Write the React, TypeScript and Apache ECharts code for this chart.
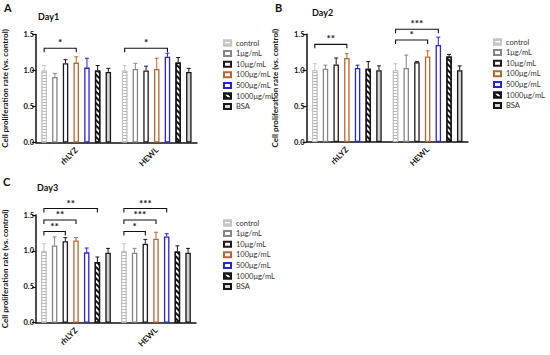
import React, { useEffect, useRef } from 'react';
import * as echarts from 'echarts';

const categories = ['rhLYZ', 'HEWL'];
const doses = ['control', '1μg/mL', '10μg/mL', '100μg/mL', '500μg/mL', '1000μg/mL', 'BSA'];
const dayTitles = ['Day1', 'Day2', 'Day3'];
const panelLetters = ['A', 'B', 'C'];
const yTicks = [0, 0.5, 1.0, 1.5];

// mean values per dose (control ... BSA)
const day1RhLYZ = [1.0, 0.91, 1.1, 1.11, 1.04, 1.0, 0.98];
const day1RhLYZSd = [0.07, 0.05, 0.05, 0.08, 0.13, 0.07, 0.05];
const day1HEWL = [1.0, 1.02, 1.0, 1.02, 1.19, 1.11, 0.98];
const day1HEWLSd = [0.07, 0.08, 0.06, 0.15, 0.05, 0.07, 0.05];

const day2RhLYZ = [1.0, 1.02, 1.08, 1.17, 1.03, 1.02, 1.0];
const day2RhLYZSd = [0.09, 0.05, 0.09, 0.06, 0.04, 0.1, 0.06];
const day2HEWL = [1.0, 1.03, 1.11, 1.19, 1.35, 1.19, 1.0];
const day2HEWLSd = [0.09, 0.18, 0.01, 0.08, 0.11, 0.03, 0.06];

const day3RhLYZ = [1.0, 1.075, 1.135, 1.145, 0.98, 0.845, 0.975];
const day3RhLYZSd = [0.1, 0.12, 0.05, 0.04, 0.06, 0.07, 0.06];
const day3HEWL = [1.0, 0.975, 1.1, 1.17, 1.2, 0.99, 0.975];
const day3HEWLSd = [0.1, 0.06, 0.06, 0.09, 0.04, 0.08, 0.06];

// significance brackets: [category, fromDose, toDose, yValue, stars]
const day1Brackets: [number, number, number, number, string][] = [
  [0, 0, 3, 1.31, '*'],
  [1, 0, 4, 1.31, '*'],
];
const day2Brackets: [number, number, number, number, string][] = [
  [0, 0, 3, 1.36, '**'],
  [1, 0, 3, 1.42, '*'],
  [1, 0, 4, 1.57, '***'],
];
const day3Brackets: [number, number, number, number, string][] = [
  [0, 0, 2, 1.27, '**'],
  [0, 0, 3, 1.43, '**'],
  [0, 0, 5, 1.59, '**'],
  [1, 0, 2, 1.27, '*'],
  [1, 0, 3, 1.43, '***'],
  [1, 0, 4, 1.59, '***'],
];

const dayMeans = [
  [day1RhLYZ, day1HEWL],
  [day2RhLYZ, day2HEWL],
  [day3RhLYZ, day3HEWL],
];
const daySds = [
  [day1RhLYZSd, day1HEWLSd],
  [day2RhLYZSd, day2HEWLSd],
  [day3RhLYZSd, day3HEWLSd],
];
const dayBrackets = [day1Brackets, day2Brackets, day3Brackets];

const FONT = 'Lato, "Open Sans", sans-serif';
const BAR_W = 5.5;
const BAR_GAP = 0.945;
const STEP = BAR_W * (1 + BAR_GAP);

const grids = [
  { left: 34, top: 34.5, width: 163, height: 108 },
  { left: 306.5, top: 34.3, width: 161.5, height: 107.7 },
  { left: 34.3, top: 215, width: 161.7, height: 107.7 },
];
const legendPos = [
  { left: 223, top: 39 },
  { left: 493, top: 38 },
  { left: 223, top: 219 },
];
const letterPos = [
  { left: 4, top: 2 },
  { left: 275, top: 2 },
  { left: 3, top: 176 },
];
const dayPos = [
  { left: 38, top: 12 },
  { left: 312, top: 8 },
  { left: 37, top: 183 },
];

const borderColors = ['#c4c4c4', '#858585', '#24161b', '#b9662e', '#2424d8', '#151515', '#151515'];

function itemStyleFor(k: number): any {
  const base: any = {
    color: '#ffffff',
    borderColor: borderColors[k],
    borderWidth: 1.3,
  };
  if (k === 0) {
    base.borderWidth = 1;
    base.decal = {
      symbol: 'rect',
      symbolSize: 1,
      dashArrayX: [1, 0],
      dashArrayY: [1, 2],
      rotation: 0,
      color: '#b8b8b8',
      backgroundColor: '#ffffff',
    };
  } else if (k === 5) {
    base.decal = {
      symbol: 'rect',
      symbolSize: 1,
      dashArrayX: [1, 0],
      dashArrayY: [1.6, 1.6],
      rotation: Math.PI / 4,
      color: '#111111',
      backgroundColor: '#ffffff',
    };
  } else if (k === 6) {
    base.color = '#d2d2d2';
  }
  return base;
}

function buildOption(): any {
  const series: any[] = [];
  const xAxis: any[] = [];
  const yAxis: any[] = [];
  const legend: any[] = [];
  const title: any[] = [];

  for (let d = 0; d < 3; d++) {
    xAxis.push({
      type: 'category',
      gridIndex: d,
      data: categories,
      axisLine: { lineStyle: { color: '#111', width: 1.5 } },
      axisTick: { alignWithLabel: true, length: 3, lineStyle: { color: '#111', width: 1.2 } },
      axisLabel: {
        rotate: 45,
        margin: 6,
        fontFamily: FONT,
        fontWeight: 'bold',
        fontSize: 8,
        color: '#111',
      },
    });
    yAxis.push({
      type: 'value',
      gridIndex: d,
      min: 0,
      max: 1.5,
      interval: 0.5,
      name: 'Cell proliferation rate (vs. control)',
      nameLocation: 'middle',
      nameGap: d === 1 ? 27.5 : 27,
      nameTextStyle: { fontFamily: FONT, fontWeight: 'bold', fontSize: 8, color: '#111' },
      axisLine: { show: true, lineStyle: { color: '#111', width: 1.5 } },
      axisTick: { show: true, length: 4, lineStyle: { color: '#111', width: 1.2 } },
      splitLine: { show: false },
      axisLabel: {
        margin: 2,
        fontFamily: FONT,
        fontWeight: 'bold',
        fontSize: 7.5,
        color: '#111',
        formatter: (v: number) => (yTicks.indexOf(v) >= 0 ? v.toFixed(1) : ''),
      },
    });

    for (let k = 0; k < doses.length; k++) {
      series.push({
        type: 'bar',
        name: doses[k],
        xAxisIndex: d,
        yAxisIndex: d,
        barWidth: BAR_W,
        barGap: `${BAR_GAP * 100}%`,
        data: [dayMeans[d][0][k], dayMeans[d][1][k]],
        itemStyle: itemStyleFor(k),
        z: 2,
      });
    }

    const errData: number[][] = [];
    for (let c = 0; c < 2; c++) {
      for (let k = 0; k < doses.length; k++) {
        errData.push([c, dayMeans[d][c][k] + daySds[d][c][k], k, dayMeans[d][c][k]]);
      }
    }
    series.push({
      type: 'custom',
      name: 'err' + d,
      xAxisIndex: d,
      yAxisIndex: d,
      data: errData,
      encode: { x: 0, y: 1 },
      z: 3,
      renderItem: (params: any, api: any) => {
        const c = api.value(0);
        const top = api.value(1);
        const k = api.value(2);
        const mean = api.value(3);
        const center = api.coord([c, mean]);
        const x = center[0] + (k - 3) * STEP;
        const y0 = center[1];
        const y1 = api.coord([c, top])[1];
        const col = borderColors[k];
        return {
          type: 'group',
          children: [
            { type: 'line', shape: { x1: x, y1: y0, x2: x, y2: y1 }, style: { stroke: col, lineWidth: 1 } },
            { type: 'line', shape: { x1: x - 2, y1: y1, x2: x + 2, y2: y1 }, style: { stroke: col, lineWidth: 1 } },
          ],
        };
      },
    });

    const br = dayBrackets[d];
    series.push({
      type: 'custom',
      name: 'sig' + d,
      xAxisIndex: d,
      yAxisIndex: d,
      data: br.map((b) => [b[0], b[3], b[1], b[2]]),
      encode: { x: 0, y: 1 },
      z: 4,
      renderItem: (params: any, api: any) => {
        const c = api.value(0);
        const yv = api.value(1);
        const from = api.value(2);
        const to = api.value(3);
        const p = api.coord([c, yv]);
        const x1 = p[0] + (from - 3) * STEP;
        const x2 = p[0] + (to - 3) * STEP;
        const y = p[1];
        return {
          type: 'group',
          children: [
            {
              type: 'polyline',
              shape: { points: [[x1, y + 4], [x1, y], [x2, y], [x2, y + 4]] },
              style: { stroke: '#111', lineWidth: 1.1, fill: null },
            },
            {
              type: 'text',
              x: (x1 + x2) / 2,
              y: y - 1,
              style: {
                text: br[params.dataIndex][4],
                fontFamily: FONT,
                fontWeight: 'bold',
                fontSize: 10,
                fill: '#111',
                align: 'center',
                verticalAlign: 'bottom',
              },
            },
          ],
        };
      },
    });

    legend.push({
      data: doses,
      orient: 'vertical',
      left: legendPos[d].left,
      top: legendPos[d].top,
      padding: 0,
      itemWidth: 7,
      itemHeight: 5,
      itemGap: 2.6,
      icon: 'rect',
      selectedMode: false,
      textStyle: { fontFamily: FONT, fontSize: 7.5, color: '#333', lineHeight: 6 },
    });

    title.push({
      text: panelLetters[d],
      left: letterPos[d].left,
      top: letterPos[d].top,
      padding: 0,
      textStyle: { fontFamily: FONT, fontWeight: 'bold', fontSize: 11, color: '#111' },
    });
    title.push({
      text: dayTitles[d],
      left: dayPos[d].left,
      top: dayPos[d].top,
      padding: 0,
      textStyle: { fontFamily: FONT, fontWeight: 'bold', fontSize: 9, color: '#111' },
    });
  }

  return {
    animation: false,
    backgroundColor: '#ffffff',
    title,
    legend,
    grid: grids.map((g) => ({ ...g, containLabel: false })),
    xAxis,
    yAxis,
    series,
  };
}

export default function App() {
  const ref = useRef<HTMLDivElement>(null);
  useEffect(() => {
    document.body.style.margin = '0';
    if (!ref.current) return;
    const chart = echarts.init(ref.current, undefined, { renderer: 'svg' });
    chart.setOption(buildOption());
    return () => chart.dispose();
  }, []);
  return <div ref={ref} style={{ width: 550, height: 355 }} />;
}
